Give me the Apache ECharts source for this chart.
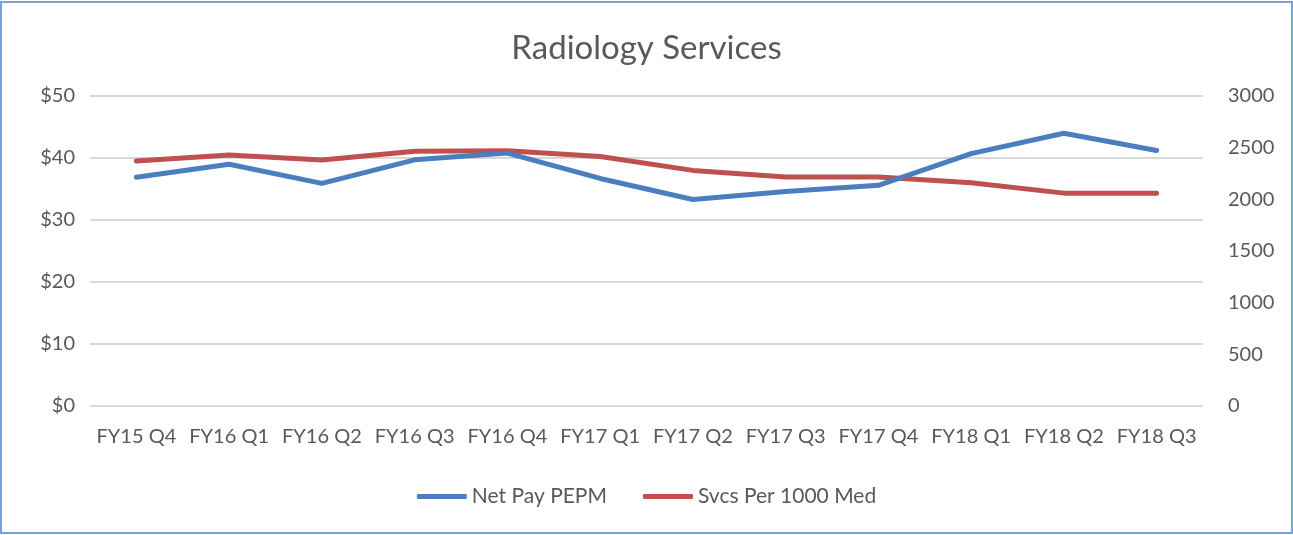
<!DOCTYPE html>
<html>
<head>
<meta charset="utf-8">
<script src="https://cdn.jsdelivr.net/npm/echarts@6/dist/echarts.min.js"></script>
<style>
html,body{margin:0;padding:0;background:#fff;}
#frame{position:absolute;left:0;top:1px;width:1289px;height:529px;border:2px solid #7aa3d9;}
#chart{position:absolute;left:0;top:0;width:1293px;height:535px;}
</style>
</head>
<body>
<div id="frame"></div>
<div id="chart"></div>
<script>
const categories = ['FY15 Q4','FY16 Q1','FY16 Q2','FY16 Q3','FY16 Q4','FY17 Q1','FY17 Q2','FY17 Q3','FY17 Q4','FY18 Q1','FY18 Q2','FY18 Q3'];
const netPayPEPM = [36.9, 39.0, 35.9, 39.7, 40.8, 36.7, 33.3, 34.6, 35.6, 40.7, 44.0, 41.2];
const svcsPer1000 = [2370, 2430, 2380, 2465, 2470, 2415, 2280, 2215, 2215, 2160, 2060, 2060];
const leftTicks = {min: 0, max: 50, interval: 10};
const rightTicks = {min: 0, max: 3000, interval: 500};

const font = 'Lato';
const txt = '#595959';
const chart = echarts.init(document.getElementById('chart'), null, {renderer: 'canvas'});
chart.setOption({
  animation: false,
  backgroundColor: 'transparent',
  title: {
    text: 'Radiology Services', left: 'center', top: 27,
    textStyle: {fontFamily: font, fontSize: 33, fontWeight: 'normal', color: txt}
  },
  legend: {
    bottom: 23, left: 'center', itemWidth: 50, itemHeight: 5, itemGap: 36,
    icon: 'roundRect',
    textStyle: {fontFamily: font, fontSize: 21, color: txt},
    data: ['Net Pay PEPM', 'Svcs Per 1000 Med']
  },
  grid: {left: 90, right: 90, top: 96, bottom: 129, containLabel: false},
  xAxis: {
    type: 'category', data: categories, boundaryGap: true,
    axisLine: {show: false}, axisTick: {show: false},
    axisLabel: {fontFamily: font, fontSize: 20, color: txt, margin: 21, interval: 0}
  },
  yAxis: [
    {
      type: 'value', min: leftTicks.min, max: leftTicks.max, interval: leftTicks.interval,
      axisLine: {show: false}, axisTick: {show: false},
      splitLine: {lineStyle: {color: '#d9d9d9', width: 2}},
      axisLabel: {fontFamily: font, fontSize: 20, color: txt, margin: 15, formatter: v => '$' + v}
    },
    {
      type: 'value', min: rightTicks.min, max: rightTicks.max, interval: rightTicks.interval,
      axisLine: {show: false}, axisTick: {show: false}, splitLine: {show: false},
      axisLabel: {fontFamily: font, fontSize: 20, color: txt, margin: 25, formatter: v => String(v)}
    }
  ],
  series: [
    {
      name: 'Net Pay PEPM', type: 'line', yAxisIndex: 0, data: netPayPEPM,
      symbol: 'none', lineStyle: {color: '#4a7ebf', width: 5, cap: 'round', join: 'round'},
      itemStyle: {color: '#4a7ebf'}, z: 3
    },
    {
      name: 'Svcs Per 1000 Med', type: 'line', yAxisIndex: 1, data: svcsPer1000,
      symbol: 'none', lineStyle: {color: '#c0504d', width: 5, cap: 'round', join: 'round'},
      itemStyle: {color: '#c0504d'}, z: 2
    }
  ]
});
</script>
</body>
</html>
